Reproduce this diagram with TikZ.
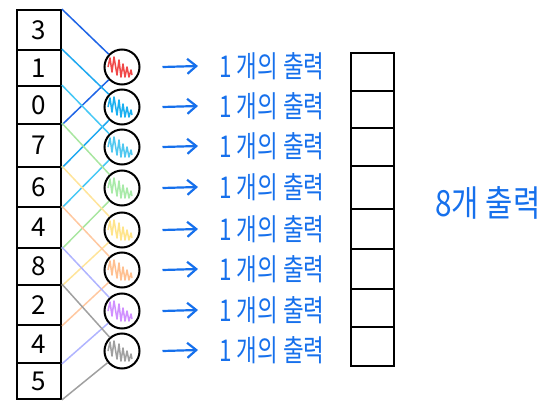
\documentclass[tikz,border=0pt]{standalone}
\usepackage{fontspec}
\newfontfamily\kr{Noto Sans CJK KR}
\usetikzlibrary{arrows.meta}
\definecolor{txtblue}{RGB}{22,112,236}
\definecolor{l1}{RGB}{30,100,230}
\definecolor{l2}{RGB}{30,168,240}
\definecolor{l3}{RGB}{70,200,245}
\definecolor{l4}{RGB}{168,230,160}
\definecolor{l5}{RGB}{255,228,154}
\definecolor{l6}{RGB}{255,200,160}
\definecolor{l7}{RGB}{176,180,255}
\definecolor{l8}{RGB}{160,160,160}
\definecolor{s1}{RGB}{240,72,72}
\definecolor{s2}{RGB}{26,176,240}
\definecolor{s3}{RGB}{80,200,240}
\definecolor{s4}{RGB}{168,234,168}
\definecolor{s5}{RGB}{255,228,138}
\definecolor{s6}{RGB}{255,192,144}
\definecolor{s7}{RGB}{208,144,255}
\definecolor{s8}{RGB}{160,160,160}
\begin{document}
\begin{tikzpicture}[x=1pt,y=-1pt,
  cell/.style={draw=black,line width=1.8pt,minimum width=44pt,inner sep=0pt,font=\kr\fontsize{26}{26}\selectfont},
  ocell/.style={draw=black,line width=1.8pt,minimum width=43pt,inner sep=0pt},
  neuron/.style={circle,draw=black,line width=2pt,minimum size=35pt,inner sep=0pt},
  wire/.style={line width=1.5pt},
  arr/.style={draw=txtblue,line width=2.2pt,-{Straight Barb[length=9pt,width=15pt,line width=2.2pt]}},
  lbl/.style={text=txtblue,font=\kr\fontsize{30}{30}\selectfont,inner sep=0pt,anchor=west,xscale=0.75},
  scrib/.pic={\draw[line width=1.5pt,line join=round,#1] (-12,0) -- (-10,-9) -- (-8,5) -- (-6,-10) -- (-3,8) -- (-1,-7) -- (1,10) -- (3,-3) -- (5,10) -- (7,0) -- (9,10) -- (11,3) -- (12,8);}
]
\useasboundingbox (0,0) rectangle (547,407);
% input array
\node[cell,minimum height=40pt] (a1) at (39,30) {3};
\node[cell,minimum height=36pt] (a2) at (39,68) {1};
\node[cell,minimum height=38pt] (a3) at (39,105) {0};
\node[cell,minimum height=43pt] (a4) at (39,145.5) {7};
\node[cell,minimum height=40pt] (a5) at (39,187) {6};
\node[cell,minimum height=41pt] (a6) at (39,227.5) {4};
\node[cell,minimum height=37pt] (a7) at (39,266.5) {8};
\node[cell,minimum height=40pt] (a8) at (39,305) {2};
\node[cell,minimum height=38pt] (a9) at (39,344) {4};
\node[cell,minimum height=36pt] (a10) at (39,381) {5};
% neurons
\foreach \i/\y in {1/67,2/107,3/147,4/188,5/230,6/270,7/311,8/351}{
  \pic at (120,\y) {scrib=s\i};
  \node[neuron] (c\i) at (122,\y) {};
  \node[lbl] (t\i) at (219,\y-1) {1 개의 출력};
  \draw[arr] ([xshift=22pt]c\i.east) -- ([xshift=-21pt]t\i.west);
}
% wires
\foreach \i in {1,...,8}{
  \pgfmathtruncatemacro{\j}{\i+2}
  \draw[wire,l\i] (a\i.north east) -- (c\i);
  \draw[wire,l\i] (a\j.south east) -- (c\i);
}
% output array
\node[ocell,minimum height=38pt] (o1) at (372.5,72) {};
\node[ocell,minimum height=37pt] (o2) at (372.5,109.5) {};
\node[ocell,minimum height=38pt] (o3) at (372.5,147) {};
\node[ocell,minimum height=43pt] (o4) at (372.5,187.5) {};
\node[ocell,minimum height=40pt] (o5) at (372.5,229) {};
\node[ocell,minimum height=40pt] (o6) at (372.5,269) {};
\node[ocell,minimum height=38pt] (o7) at (372.5,308) {};
\node[ocell,minimum height=39pt] (o8) at (372.5,346.5) {};
\node[lbl,anchor=center,xscale=1.1,font=\kr\fontsize{36}{36}\selectfont] (tot) at (488,203) {8개 출력};
\end{tikzpicture}
\end{document}
